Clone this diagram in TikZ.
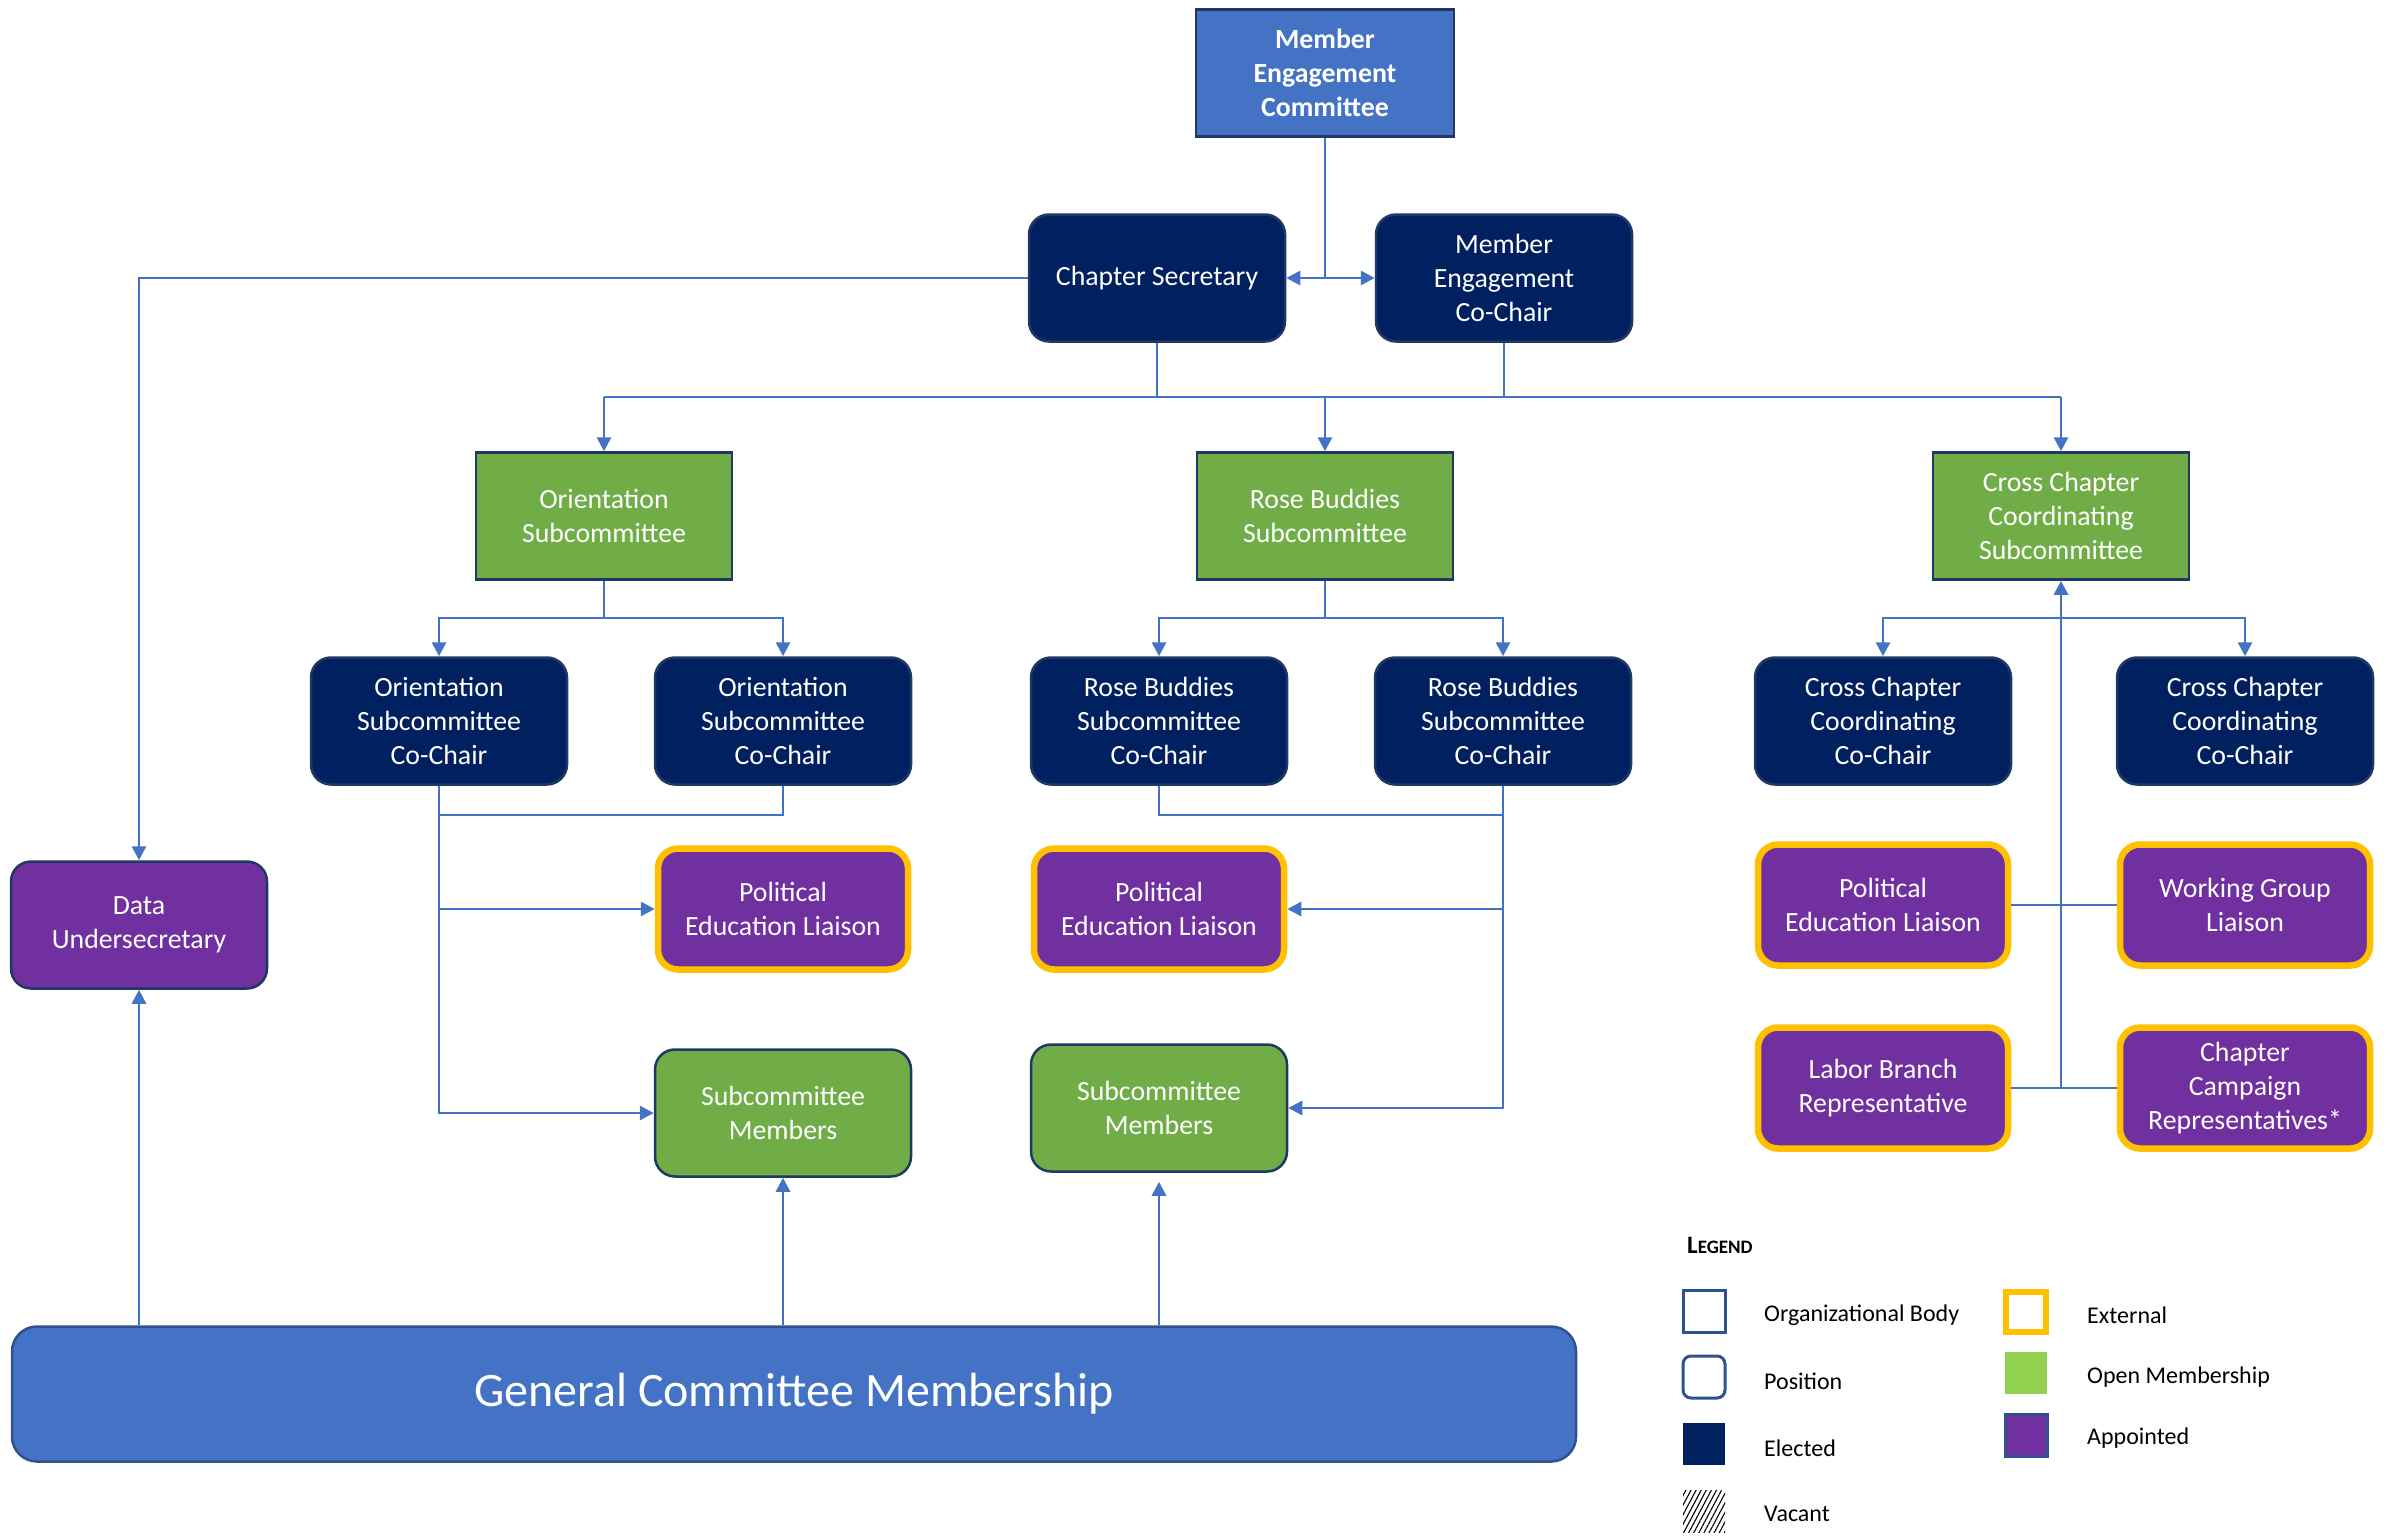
\documentclass[tikz,border=0pt]{standalone}
\usepackage{fontspec}
\setmainfont{Carlito}
\usetikzlibrary{arrows.meta,patterns.meta}
\definecolor{mblue}{HTML}{4472C4}
\definecolor{mblueD}{HTML}{2F528F}
\definecolor{navy}{HTML}{002060}
\definecolor{navyB}{HTML}{1F3864}
\definecolor{ogreen}{HTML}{70AD47}
\definecolor{lgreen}{HTML}{92D050}
\definecolor{purp}{HTML}{7030A0}
\definecolor{gold}{HTML}{FFC000}
\begin{document}
\begin{tikzpicture}[x=1pt,y=-1pt,
 base/.style={minimum width=256pt,minimum height=127pt,align=center,text=white,inner sep=0pt,font=\fontsize{27.8}{34}\selectfont,line width=2.5pt},
 orgbody/.style={base,rectangle,fill=ogreen,draw=navyB},
 position/.style={base,rounded corners=20pt},
 elected/.style={position,fill=navy,draw=navyB},
 openm/.style={position,fill=ogreen,draw=navyB},
 appointed/.style={position,fill=purp,draw=navyB},
 external/.style={position,fill=purp,draw=gold,line width=6.5pt,minimum width=250pt,minimum height=121pt},
 conn/.style={draw=mblue,line width=2.8pt},
 arr/.style={conn,-{Triangle[length=14pt,width=14pt]}},
 lsw/.style={minimum width=42pt,minimum height=42pt,inner sep=0pt,line width=3pt},
 ltxt/.style={anchor=west,inner sep=0pt,font=\fontsize{24}{29}\selectfont},
]
\useasboundingbox (0,0) rectangle (2392,1536);

% top
\node[base,rectangle,fill=mblue,draw=navyB,minimum width=258pt,font=\fontsize{27.8}{34}\selectfont\bfseries] (mec) at (1325,73) {Member\\Engagement\\Committee};
\node[elected] (cs) at (1157,278) {Chapter Secretary};
\node[elected] (mecc) at (1504,278) {Member\\Engagement\\Co-Chair};

% subcommittees
\node[orgbody] (os) at (604,516) {Orientation\\Subcommittee};
\node[orgbody] (rbs) at (1325,516) {Rose Buddies\\Subcommittee};
\node[orgbody] (ccs) at (2061,516) {Cross Chapter\\Coordinating\\Subcommittee};

% co-chairs
\node[elected] (occ1) at (439,721) {Orientation\\Subcommittee\\Co-Chair};
\node[elected] (occ2) at (783,721) {Orientation\\Subcommittee\\Co-Chair};
\node[elected] (rcc1) at (1159,721) {Rose Buddies\\Subcommittee\\Co-Chair};
\node[elected] (rcc2) at (1503,721) {Rose Buddies\\Subcommittee\\Co-Chair};
\node[elected] (ccc1) at (1883,721) {Cross Chapter\\Coordinating\\Co-Chair};
\node[elected] (ccc2) at (2245,721) {Cross Chapter\\Coordinating\\Co-Chair};

% lower level
\node[appointed] (du) at (139,925) {Data\\Undersecretary};
\node[external] (opel) at (783,909) {Political\\Education Liaison};
\node[openm] (osm) at (783,1113) {Subcommittee\\Members};
\node[external] (rpel) at (1159,909) {Political\\Education Liaison};
\node[openm] (rsm) at (1159,1108) {Subcommittee\\Members};
\node[external] (cpel) at (1883,905) {Political\\Education Liaison};
\node[external] (wgl) at (2245,905) {Working Group\\Liaison};
\node[external] (lbr) at (1883,1088) {Labor Branch\\Representative};
\node[external] (ccr) at (2245,1088) {Chapter\\Campaign\\Representatives*};

% general membership
\node[base,rounded corners=25pt,fill=mblue,draw=mblueD,minimum width=1564pt,minimum height=135pt,font=\fontsize{48}{56}\selectfont] (gcm) at (794,1394) {General Committee Membership};

% connectors
\coordinate (bus) at (0,397);
\coordinate (ob) at (0,618);
\coordinate (cb) at (0,815);
\draw[conn] (mec.south) -- (mec.south |- cs.east) coordinate (j1);
\draw[arr] (j1) -- (cs.east);
\draw[arr] (j1) -- (mecc.west);
\draw[arr] (cs.west) -| (du.north);
\draw[conn] (cs.south) -- (cs.south |- bus);
\draw[conn] (mecc.south) -- (mecc.south |- bus);
\draw[conn] (os.north |- bus) -- (ccs.north |- bus);
\draw[arr] (os.north |- bus) -- (os.north);
\draw[arr] (rbs.north |- bus) -- (rbs.north);
\draw[arr] (ccs.north |- bus) -- (ccs.north);

% orientation
\draw[conn] (os.south) -- (os.south |- ob);
\draw[arr] (os.south |- ob) -| (occ1.north);
\draw[arr] (os.south |- ob) -| (occ2.north);
\draw[conn] (occ2.south) |- (occ1.south |- cb);
\draw[arr] (occ1.south) |- (osm.west);
\draw[arr] (occ1.south |- opel.west) -- (opel.west);

% rose buddies
\draw[conn] (rbs.south) -- (rbs.south |- ob);
\draw[arr] (rbs.south |- ob) -| (rcc1.north);
\draw[arr] (rbs.south |- ob) -| (rcc2.north);
\draw[conn] (rcc1.south) |- (rcc2.south |- cb);
\draw[arr] (rcc2.south) |- (rsm.east);
\draw[arr] (rcc2.south |- rpel.east) -- (rpel.east);

% cross chapter
\draw[arr] (ccs.south |- lbr.east) -- (ccs.south);
\draw[conn] (lbr.east) -- (ccr.west);
\draw[conn] (cpel.east) -- (wgl.west);
\draw[arr] (ccs.south |- ob) -| (ccc1.north);
\draw[arr] (ccs.south |- ob) -| (ccc2.north);

% from general membership
\draw[arr] (gcm.north -| du.south) -- (du.south);
\draw[arr] (gcm.north -| osm.south) -- (osm.south);
\draw[arr,shorten >=9pt] (gcm.north -| rsm.south) -- (rsm.south);

% legend
\node[anchor=west,inner sep=0pt,font=\fontsize{25}{29}\selectfont\bfseries] (ltitle) at (1687,1245) {L{\fontsize{19}{22}\selectfont EGEND}};
\node[lsw,draw=mblueD] (lorg) at (1704,1311) {};
\node[lsw,draw=mblueD,rounded corners=8pt] (lpos) at (1704,1377) {};
\node[lsw,fill=navy] (lel) at (1704,1444) {};
\node[lsw,pattern={Lines[angle=62,distance=4.5pt,line width=1.1pt]}] (lvac) at (1704,1511) {};
\node[lsw,draw=gold,line width=6pt,minimum width=40pt,minimum height=40pt] (lext) at (2026,1312) {};
\node[lsw,fill=lgreen] (lopen) at (2026,1373) {};
\node[lsw,fill=purp,draw=mblueD] (lapp) at (2026,1435) {};
\node[ltxt] (torg) at (1764,1315) {Organizational Body};
\node[ltxt] (tpos) at (1764,1381) {Position};
\node[ltxt] (tel) at (1764,1448) {Elected};
\node[ltxt] (tvac) at (1764,1514) {Vacant};
\node[ltxt] (text) at (2087,1315) {External};
\node[ltxt] (topen) at (2087,1377) {Open Membership};
\node[ltxt] (tapp) at (2087,1438) {Appointed};
\end{tikzpicture}
\end{document}
